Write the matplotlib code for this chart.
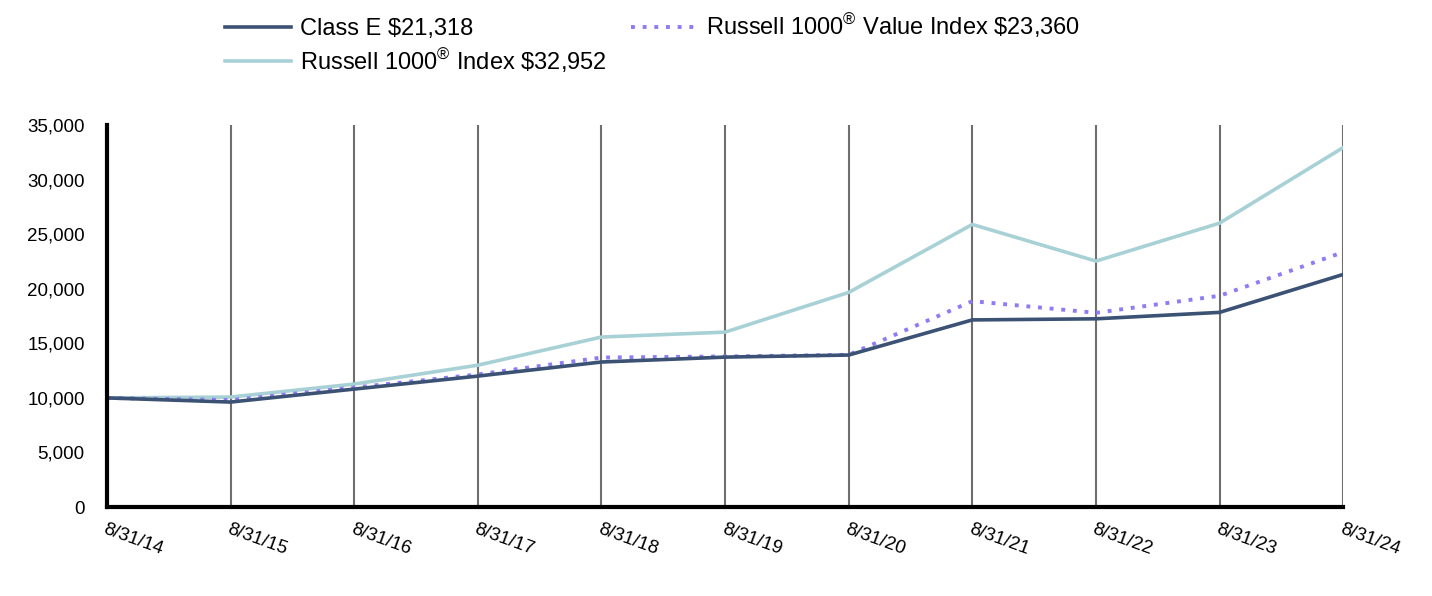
import matplotlib.pyplot as plt
import numpy as np

plt.rcParams['font.family'] = ['Liberation Sans', 'DejaVu Sans']
plt.rcParams['mathtext.fontset'] = 'custom'
plt.rcParams['mathtext.rm'] = 'Liberation Sans'

dates = ['8/31/14', '8/31/15', '8/31/16', '8/31/17', '8/31/18', '8/31/19',
         '8/31/20', '8/31/21', '8/31/22', '8/31/23', '8/31/24']
class_e = [10000, 9620, 10810, 12000, 13290, 13740, 13930, 17150, 17250, 17840, 21318]
r1000 = [10000, 10080, 11270, 13000, 15580, 16030, 19670, 25900, 22540, 26020, 32952]
r1000_value = [10000, 9800, 10950, 12150, 13700, 13800, 13950, 18870, 17800, 19360, 23360]
yticks = [0, 5000, 10000, 15000, 20000, 25000, 30000, 35000]

fig = plt.figure(figsize=(14.32, 5.96), dpi=100)
ax = fig.add_axes([0.0747, 0.1493, 0.8633, 0.6407])

x = np.arange(len(dates))
l2, = ax.plot(x, r1000, color='#a8d1d6', lw=2.6, label='Russell 1000$^{\\circledR}$ Index \\$32,952')
l3, = ax.plot(x, r1000_value, color='#8c7cf5', lw=2.8, linestyle=(0, (1, 2)),
              label='Russell 1000$^{\\circledR}$ Value Index \\$23,360')
l1, = ax.plot(x, class_e, color='#3b5275', lw=2.6, label='Class E \\$21,318')

ax.set_xlim(0, 10)
ax.set_ylim(0, 35000)
ax.set_xticks(x)
ax.set_xticklabels(dates, rotation=-20, ha='left', va='top', rotation_mode='anchor', fontsize=13.5)
ax.set_yticks(yticks)
ax.set_yticklabels([f'{v:,}' for v in yticks], fontsize=13.5)
ax.tick_params(axis='both', length=0, pad=10)
ax.tick_params(axis='y', pad=16)
ax.grid(axis='x', color='#6e6e6e', lw=1.5)
ax.set_axisbelow(True)
for s in ['top', 'right']:
    ax.spines[s].set_visible(False)
for s in ['left', 'bottom']:
    ax.spines[s].set_linewidth(3)
    ax.spines[s].set_color('black')

fig.legend(handles=[l1, l2, l3], ncol=2, loc='upper left', bbox_to_anchor=(0.142, 1.017),
           frameon=False, fontsize=17, handlelength=2.8, columnspacing=1.0,
           labelspacing=0.25, handletextpad=0.4)

fig.savefig('out.png', dpi=100)
